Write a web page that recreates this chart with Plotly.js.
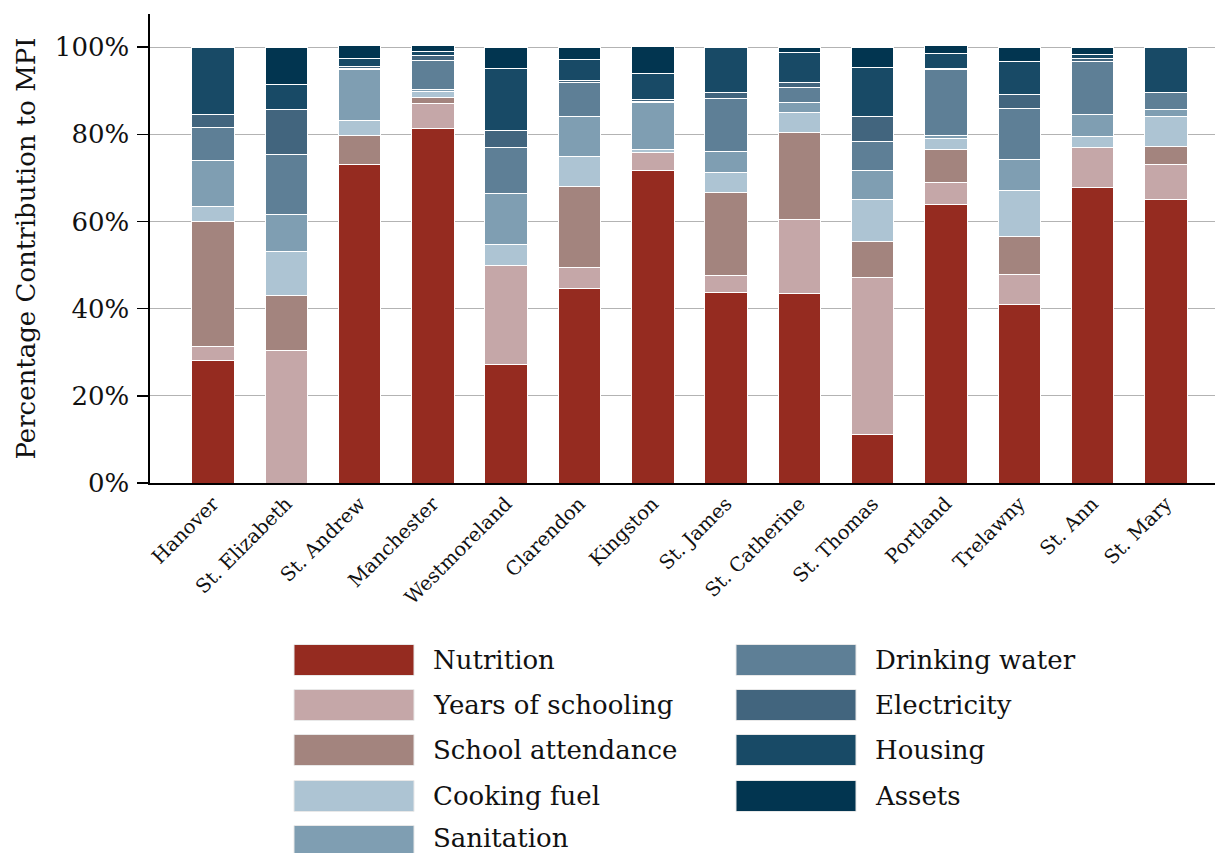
<!DOCTYPE html>
<html>
<head>
<meta charset="utf-8">
<script src="https://cdn.plot.ly/plotly-3.0.1.min.js"></script>
<style>html,body{margin:0;padding:0;background:#fff;}#chart{width:1215px;height:853px;}</style>
</head>
<body>
<div id="chart"></div>
<script>
const categories = ['Hanover','St. Elizabeth','St. Andrew','Manchester','Westmoreland','Clarendon','Kingston','St. James','St. Catherine','St. Thomas','Portland','Trelawny','St. Ann','St. Mary'];

const nutrition        = [28.2, 0,    73.1, 81.3, 27.1, 44.7, 71.8, 43.7, 43.5, 11.1, 63.8, 41.0, 67.9, 65.1];
const yearsOfSchooling = [3.1,  30.5, 0,    5.7,  22.8, 4.8,  4.0,  3.8,  17.0, 36.0, 5.2,  6.9,  9.0,  8.0];
const schoolAttendance = [28.8, 12.6, 6.7,  1.5,  0,    18.6, 0,    19.2, 19.9, 8.2,  7.6,  8.6,  0,    4.1];
const cookingFuel      = [3.3,  9.9,  3.4,  1.4,  4.9,  6.9,  0.8,  4.5,  4.6,  9.7,  2.5,  10.7, 2.6,  6.8];
const sanitation       = [10.6, 8.6,  11.7, 0.3,  11.7, 9.0,  10.6, 4.9,  2.4,  6.8,  0.7,  7.1,  5.0,  1.7];
const drinkingWater    = [7.5,  13.7, 0.3,  6.7,  10.4, 7.8,  0.4,  12.2, 3.3,  6.6,  15.1, 11.7, 12.1, 3.8];
const electricity      = [3.1,  10.3, 0.3,  1.2,  4.0,  0.6,  0.3,  1.2,  1.3,  5.6,  0.3,  3.2,  0.8,  0];
const housing          = [15.4, 5.8,  2.0,  0.9,  14.1, 4.8,  6.0,  10.5, 6.7,  11.3, 3.4,  7.6,  0.9,  10.4];
const assets           = [0,    8.5,  2.8,  1.4,  5.0,  2.8,  6.2,  0,    1.3,  4.7,  1.7,  3.2,  1.7,  0];

const seriesNames = ['Nutrition','Years of schooling','School attendance','Cooking fuel','Sanitation','Drinking water','Electricity','Housing','Assets'];
const seriesValues = [nutrition, yearsOfSchooling, schoolAttendance, cookingFuel, sanitation, drinkingWater, electricity, housing, assets];
const seriesColors = ['#952B20','#C5A7A8','#A3847E','#ADC4D3','#7F9EB2','#5E7F96','#42657E','#184A66','#023550'];

const FONT = 'DejaVu Serif, serif';
const W = 1215, H = 853;
const M = {l: 150, r: 0, t: 14, b: 370};
const plotW = W - M.l - M.r, plotH = H - M.t - M.b;
const px2x = p => (p - M.l) / plotW;
const px2y = p => (H - M.b - p) / plotH;

const traces = seriesNames.map((name, i) => ({
  type: 'bar',
  name: name,
  x: categories,
  y: seriesValues[i],
  width: 0.58,
  marker: {color: seriesColors[i], line: {color: '#ffffff', width: 1}},
  showlegend: false,
  hoverinfo: 'name+y'
}));

// custom legend (two columns, column-major), drawn with shapes + annotations
const shapes = [], annotations = [];
const colSwatchX = [294, 736];
const colTextX = [432, 874];
const rowCenters = [660, 705, 750, 796, 841];
seriesNames.forEach((name, i) => {
  const col = i < 5 ? 0 : 1;
  const row = i < 5 ? i : i - 5;
  const cy = rowCenters[row];
  shapes.push({
    type: 'rect', xref: 'paper', yref: 'paper',
    x0: px2x(colSwatchX[col]), x1: px2x(colSwatchX[col] + 120),
    y0: px2y(cy - 15.5), y1: px2y(cy + 15.5),
    fillcolor: seriesColors[i], line: {color: '#e8e8e8', width: 1}
  });
  annotations.push({
    xref: 'paper', yref: 'paper',
    x: px2x(colTextX[col]), y: px2y(row === 4 ? cy - 3 : cy),
    xanchor: 'left', yanchor: 'middle',
    text: name, showarrow: false, borderpad: 0,
    font: {family: FONT, size: 26, color: '#111'}
  });
});

const layout = {
  width: W, height: H,
  margin: M,
  barmode: 'stack',
  paper_bgcolor: '#ffffff',
  plot_bgcolor: '#ffffff',
  font: {family: FONT, color: '#111'},
  xaxis: {
    type: 'category',
    range: [-0.86, 13.67],
    tickangle: -45,
    tickfont: {family: FONT, size: 19.5, color: '#111'},
    showline: true, linecolor: '#000', linewidth: 1.6,
    ticks: '', showgrid: false, zeroline: false,
    automargin: false
  },
  yaxis: {
    range: [0, 107.6],
    tickvals: [0, 20, 40, 60, 80, 100],
    ticktext: ['0%', '20%', '40%', '60%', '80%', '100%'],
    tickfont: {family: FONT, size: 26, color: '#111'},
    ticks: 'outside', ticklen: 11, tickwidth: 1.6, tickcolor: '#000',
    ticklabelstandoff: 3,
    showline: true, linecolor: '#000', linewidth: 1.6,
    showgrid: true, gridcolor: '#b3b3b3', gridwidth: 1,
    zeroline: false,
    title: {text: 'Percentage Contribution to MPI', font: {family: FONT, size: 26, color: '#111'}, standoff: 12},
    automargin: false
  },
  shapes: shapes,
  annotations: annotations
};

Plotly.newPlot('chart', traces, layout, {displayModeBar: false, staticPlot: true});
</script>
</body>
</html>
